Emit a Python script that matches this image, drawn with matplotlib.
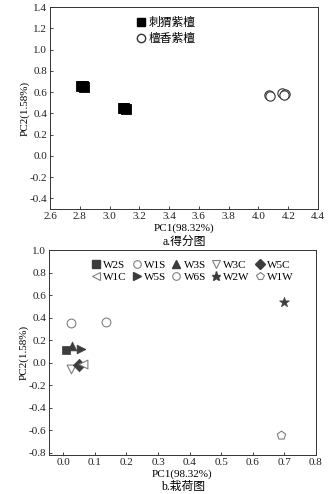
import matplotlib
matplotlib.use("Agg")
import matplotlib.pyplot as plt
from matplotlib.lines import Line2D

plt.rcParams['font.family'] = ['Liberation Serif', 'Noto Sans CJK SC']
plt.rcParams['font.size'] = 8

# Score plot data
sq_x = [2.81, 2.83, 2.82, 3.09, 3.11, 3.10]
sq_y = [0.66, 0.65, 0.66, 0.45, 0.44, 0.45]
ci_x = [4.07, 4.08, 4.16, 4.18, 4.17]
ci_y = [0.57, 0.56, 0.59, 0.58, 0.57]
score_names = ['刺猬紫檀', '檀香紫檀']

# Loading plot data
load_names = ['W2S', 'W1S', 'W3S', 'W3C', 'W5C', 'W1C', 'W5S', 'W6S', 'W2W', 'W1W']
load_x = [0.010, 0.024, 0.028, 0.024, 0.051, 0.062, 0.057, 0.135, 0.699, 0.690]
load_y = [0.116, 0.355, 0.150, -0.060, -0.018, -0.015, 0.125, 0.365, 0.535, -0.640]
load_markers = ['s', 'o', '^', 'v', 'D', '<', '>', 'o', '*', 'p']
load_filled = [True, False, True, False, True, False, True, False, True, False]

dark = '#3c3c3c'
grey = '#808080'

fig = plt.figure(figsize=(3.31, 4.94), dpi=100)
W, H = 331, 494

def add_ax(l, r, t, b):
    return fig.add_axes([l / W, 1 - b / H, (r - l) / W, (b - t) / H])

# ---- a. score plot ----
ax1 = add_ax(50, 318, 7, 209)
ax1.scatter(sq_x, sq_y, marker='s', s=50, c='black', edgecolors='black', linewidths=0.6, zorder=3)
ax1.scatter(ci_x, ci_y, marker='o', s=45, facecolors='white', edgecolors='#333333', linewidths=0.8, zorder=3)
ax1.set_xlim(2.6, 4.4)
ax1.set_ylim(-0.5, 1.4)
ax1.set_xticks([2.6, 2.8, 3.0, 3.2, 3.4, 3.6, 3.8, 4.0, 4.2, 4.4])
ax1.set_yticks([-0.4, -0.2, 0.0, 0.2, 0.4, 0.6, 0.8, 1.0, 1.2, 1.4])
ax1.xaxis.set_major_formatter(matplotlib.ticker.FormatStrFormatter('%.1f'))
ax1.yaxis.set_major_formatter(matplotlib.ticker.FormatStrFormatter('%.1f'))
ax1.set_xlabel('PC1(98.32%)', labelpad=2)
ax1.set_ylabel('PC2(1.58%)', labelpad=0)
h1 = [Line2D([], [], ls='none', marker='s', ms=6, mfc='black', mec='black'),
      Line2D([], [], ls='none', marker='o', ms=6, mfc='white', mec='#333333')]
ax1.legend(h1, score_names, loc='upper left', bbox_to_anchor=(0.29, 0.99), frameon=False,
           handletextpad=0.2, labelspacing=0.25, handlelength=1.0, borderaxespad=0.2,
           prop={'family': ['Noto Sans CJK SC'], 'size': 8.5})
fig.text(184 / W, 1 - 242 / H, 'a.得分图', ha='center', va='center', fontsize=8.5)

# ---- b. loading plot ----
ax2 = add_ax(49, 316, 250, 455)
handles = []
for x, y, m, f in zip(load_x, load_y, load_markers, load_filled):
    size = 55 if m == '*' else 40
    if f:
        ax2.scatter([x], [y], marker=m, s=size, c=dark, edgecolors=dark, linewidths=0.5, zorder=3)
        handles.append(Line2D([], [], ls='none', marker=m, ms=6.5 if m == '*' else 5.5, mfc=dark, mec=dark))
    else:
        ax2.scatter([x], [y], marker=m, s=size, facecolors='white', edgecolors=grey, linewidths=0.8, zorder=3)
        handles.append(Line2D([], [], ls='none', marker=m, ms=5.5, mfc='white', mec=grey, mew=0.8))
ax2.set_xlim(-0.045, 0.8)
ax2.set_ylim(-0.82, 1.0)
ax2.set_xticks([0.0, 0.1, 0.2, 0.3, 0.4, 0.5, 0.6, 0.7, 0.8])
ax2.set_yticks([-0.8, -0.6, -0.4, -0.2, 0.0, 0.2, 0.4, 0.6, 0.8, 1.0])
ax2.xaxis.set_major_formatter(matplotlib.ticker.FormatStrFormatter('%.1f'))
ax2.yaxis.set_major_formatter(matplotlib.ticker.FormatStrFormatter('%.1f'))
ax2.set_xlabel('PC1(98.32%)', labelpad=2)
ax2.set_ylabel('PC2(1.58%)', labelpad=0)
# column-major ordering so rows read W2S..W5C / W1C..W1W
order = [0, 5, 1, 6, 2, 7, 3, 8, 4, 9]
ax2.legend([handles[i] for i in order], [load_names[i] for i in order], ncol=5,
           loc='upper left', bbox_to_anchor=(0.13, 0.985), frameon=False,
           handletextpad=0.15, columnspacing=0.4, labelspacing=0.25,
           handlelength=1.0, fontsize=8, borderaxespad=0.2)
fig.text(183 / W, 1 - 487 / H, 'b.栽荷图', ha='center', va='center', fontsize=8.5)

for ax in (ax1, ax2):
    ax.tick_params(direction='in', length=2.5, width=0.6, labelsize=8, colors='#222222', pad=2)
    for sp in ax.spines.values():
        sp.set_linewidth(0.7)
        sp.set_color('#333333')

fig.savefig('out.png', dpi=100)
